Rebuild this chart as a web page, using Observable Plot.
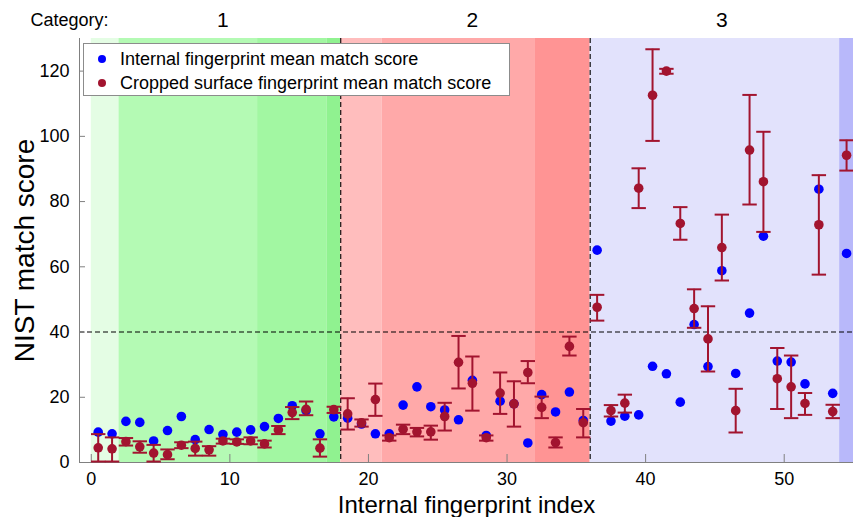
<!DOCTYPE html>
<html>
<head>
<meta charset="utf-8">
<script src="https://cdn.jsdelivr.net/npm/d3@7"></script>
<script src="https://cdn.jsdelivr.net/npm/@observablehq/plot@0.6"></script>
<style>
  body { margin: 0; background: #fff; font-family: "Liberation Sans", Arial, sans-serif; }
  #chart { position: relative; width: 853px; height: 517px; }
  .legend {
    position: absolute; left: 83px; top: 43px; width: 427px; height: 53px;
    box-sizing: border-box; border: 1px solid #8c8c8c; background: #fff;
    font-size: 18px; color: #000;
  }
  .legend .row { position: absolute; left: 0; height: 24px; line-height: 24px; white-space: nowrap; }
  .legend .sw { position: absolute; left: 14px; top: 8px; width: 8px; height: 8px; border-radius: 50%; }
  .legend .lab { position: absolute; left: 36px; top: 0; }
</style>
</head>
<body>
<div id="chart"></div>
<script>
// Category blocks along the fingerprint index
const categoryNames = ["1", "2", "3"];
const categoryStart = [0, 18, 36];
const categoryEnd = [18, 36, 54];

// Shaded sub-ranges behind the points
const bandStart = [0, 2, 12, 17, 18, 21, 32, 36, 54];
const bandEnd = [2, 12, 17, 18, 21, 32, 36, 54, 55];
const bandColor = ["#e4fde4", "#b4fab4", "#a2f7a2", "#90f290", "#ffbdbd", "#ffa9a9", "#ff9494", "#e2e2fc", "#b8b8fa"];

// Mean NIST match score of each internal fingerprint
const internalScore = [
  9.3, 8.8, 12.6, 12.3, 6.6, 9.8, 14.1, 7.0, 10.1, 8.6, 9.3, 10.0, 11.0, 13.5, 17.4, 15.9, 8.8, 14.0,
  13.6, 11.8, 8.8, 8.8, 17.6, 23.2, 17.1, 16.1, 13.1, 25.2, 8.3, 18.8, 18.0, 6.0, 20.8, 15.5, 21.6, 12.9,
  65.1, 12.7, 14.2, 14.6, 29.5, 27.2, 18.5, 42.3, 29.4, 58.8, 27.3, 45.8, 69.4, 31.1, 30.8, 24.1, 83.8, 21.2, 64.1
];

// Cropped surface fingerprint: mean score with upper and lower error bounds
const croppedMean = [
  4.5, 4.2, 6.4, 4.8, 2.9, 2.4, 5.3, 4.3, 3.9, 6.6, 6.3, 6.6, 5.7, 10.0, 15.3, 16.3, 4.4, 16.2,
  14.9, 12.2, 19.3, 7.6, 10.2, 9.4, 9.4, 14.1, 30.7, 24.3, 7.6, 21.3, 18.0, 27.6, 16.9, 6.1, 35.6, 12.2,
  47.6, 15.9, 18.2, 84.1, 112.6, 120.0, 73.3, 47.2, 37.9, 65.9, 15.9, 95.8, 86.1, 25.7, 23.2, 18.1, 72.9, 15.6, 94.2
];
const croppedUpper = [
  8.7, 7.7, 7.5, 6.5, 5.4, 4.0, 6.2, 6.4, 5.0, 7.3, 7.1, 7.7, 6.7, 11.2, 17.0, 18.7, 7.1, 17.1,
  19.7, 13.2, 24.2, 8.3, 11.6, 10.6, 11.3, 18.3, 38.8, 32.5, 8.3, 27.6, 24.9, 31.1, 20.2, 7.7, 38.6, 16.4,
  51.4, 17.6, 20.8, 90.2, 126.7, 120.7, 78.3, 53.1, 47.9, 76.0, 22.6, 112.7, 101.4, 35.1, 32.8, 21.3, 88.1, 17.7, 98.8
];
const croppedLower = [
  0.3, 0.3, 5.2, 3.0, 0.3, 1.0, 4.4, 2.1, 2.1, 5.8, 5.7, 5.6, 4.6, 8.7, 13.3, 14.5, 1.8, 15.2,
  10.1, 11.0, 14.3, 6.7, 8.7, 8.0, 7.0, 9.8, 22.7, 15.9, 6.7, 14.9, 11.0, 24.3, 13.6, 4.6, 32.8, 7.7,
  43.5, 14.1, 15.3, 78.0, 98.6, 119.2, 68.3, 41.3, 27.9, 55.8, 9.2, 79.1, 70.7, 16.4, 13.6, 14.6, 57.6, 13.6, 89.5
];

const xTicks = [0, 10, 20, 30, 40, 50];
const yTicks = [0, 20, 40, 60, 80, 100, 120];
const threshold = 40;

const seriesLabels = ["Internal fingerprint mean match score", "Cropped surface fingerprint mean match score"];
const seriesColors = ["#0000ff", "#a2142f"];

// Points sit in the middle of each unit-wide index cell
const rows = internalScore.map((v, i) => ({
  x: i + 0.5,
  internal: v,
  mean: croppedMean[i],
  upper: croppedUpper[i],
  lower: croppedLower[i]
}));
const bands = bandStart.map((s, i) => ({ x1: s, x2: bandEnd[i], fill: bandColor[i] }));
const categories = categoryNames.map((n, i) => ({ name: n, x: (categoryStart[i] + categoryEnd[i] + 1) / 2 }));

const xDomain = [-0.85, 55];
const yDomain = [0, 130];
const capHalf = 0.52;
const axisGray = "#808080";

const chart = Plot.plot({
  width: 853,
  height: 517,
  marginTop: 38,
  marginLeft: 79,
  marginRight: 0,
  marginBottom: 55,
  style: { fontFamily: "'Liberation Sans', Arial, sans-serif", fontSize: "18px", background: "#fff", overflow: "visible" },
  x: { domain: xDomain, axis: null },
  y: { domain: yDomain, axis: null },
  marks: [
    Plot.rect(bands, { x1: "x1", x2: "x2", y1: yDomain[0], y2: yDomain[1], fill: d => d.fill }),
    // category boundaries and the score threshold
    Plot.ruleX(categoryEnd.slice(0, 2), { stroke: "#000", strokeWidth: 1.1, strokeDasharray: "5,3" }),
    Plot.ruleY([threshold], { stroke: "#000", strokeWidth: 1.1, strokeDasharray: "5,3" }),
    // axis lines and inward ticks
    Plot.ruleX([xDomain[0]], { stroke: axisGray }),
    Plot.ruleY([0], { stroke: axisGray }),
    Plot.tickX(xTicks, { x: d => d, stroke: axisGray, insetTop: 416 }),
    Plot.tickY(yTicks, { y: d => d, stroke: axisGray, insetRight: 768 }),
    Plot.axisX(xTicks, { tickSize: 0, tickPadding: 10, label: null, fontSize: 18 }),
    Plot.axisY(yTicks, { tickSize: 0, tickPadding: 10, label: null, fontSize: 18 }),
    // internal fingerprint scores
    Plot.dot(rows, { x: "x", y: "internal", r: 4.8, fill: seriesColors[0], stroke: "none" }),
    // cropped surface scores with error bars
    Plot.ruleX(rows, { x: "x", y1: "lower", y2: "upper", stroke: seriesColors[1], strokeWidth: 2 }),
    Plot.link(rows, { x1: d => d.x - capHalf, x2: d => d.x + capHalf, y1: "upper", y2: "upper", stroke: seriesColors[1], strokeWidth: 2 }),
    Plot.link(rows, { x1: d => d.x - capHalf, x2: d => d.x + capHalf, y1: "lower", y2: "lower", stroke: seriesColors[1], strokeWidth: 2 }),
    Plot.dot(rows, { x: "x", y: "mean", r: 4.8, fill: seriesColors[1], stroke: "none" }),
    // titles
    Plot.text(categories, { x: "x", text: "name", frameAnchor: "top", lineAnchor: "middle", dy: -18, fontSize: 21 }),
    Plot.text(["Category:"], { frameAnchor: "top-left", lineAnchor: "middle", dx: -49, dy: -18, textAnchor: "start", fontSize: 18 }),
    Plot.text(["Internal fingerprint index"], { frameAnchor: "bottom", lineAnchor: "middle", dy: 43, fontSize: 24 }),
    Plot.text(["NIST match score"], { frameAnchor: "left", lineAnchor: "middle", textAnchor: "middle", dx: -54, rotate: -90, fontSize: 28 })
  ]
});

const host = document.getElementById("chart");
host.appendChild(chart);

// legend box drawn over the plot area
const legend = document.createElement("div");
legend.className = "legend";
seriesLabels.forEach((label, i) => {
  const row = document.createElement("div");
  row.className = "row";
  row.style.top = (3 + i * 24) + "px";
  const sw = document.createElement("span");
  sw.className = "sw";
  sw.style.background = seriesColors[i];
  const lab = document.createElement("span");
  lab.className = "lab";
  lab.textContent = label;
  row.appendChild(sw);
  row.appendChild(lab);
  legend.appendChild(row);
});
host.appendChild(legend);
</script>
</body>
</html>
